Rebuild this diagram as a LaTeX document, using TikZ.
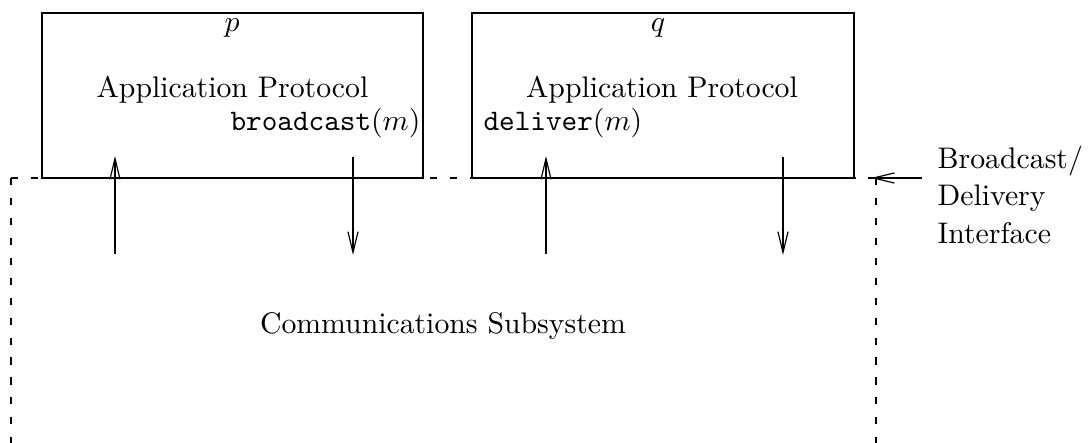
\documentclass[tikz,border=0pt]{standalone}
\usetikzlibrary{arrows.meta}
\begin{document}
\begin{tikzpicture}[x=0.336pt,y=-0.336pt, line width=0.4pt,
  dashedline/.style={dash pattern=on 2.4pt off 4.3pt},
  arr/.style={-{Straight Barb[length=7pt,width=3.4pt]}},
  txt/.style={inner sep=0, anchor=base, font=\fontsize{10}{12}\selectfont}]
\useasboundingbox (0,0) rectangle (1090,443);
% communications subsystem (dashed, open at the bottom)
\coordinate (cbl) at (11,443);
\coordinate (ctl) at (11,178);
\coordinate (ctr) at (876,178);
\coordinate (cbr) at (876,443);
\draw[dashedline] (ctl) -- (cbl);
\draw[dashedline] (ctl) -- (ctr);
\draw[dashedline] (ctr) -- (cbr);
% process boxes
\node[draw, inner sep=0, minimum width=128.02pt, minimum height=55.44pt] (P) at (232.5,95.5) {};
\node[draw, inner sep=0, minimum width=128.35pt, minimum height=55.44pt] (Q) at (663,95.5) {};
% labels
\node[txt] (pl) at (232,32) {$p$};
\node[txt] (pa) at (232.5,98) {Application Protocol};
\node[txt, anchor=base east] (pb) at (421,131) {\texttt{broadcast}$(m)$};
\node[txt] (ql) at (658,32) {$q$};
\node[txt] (qa) at (662,98) {Application Protocol};
\node[txt, anchor=base west] (qd) at (483,131) {\texttt{deliver}$(m)$};
\node[txt] (cs) at (443,333) {Communications Subsystem};
\node[txt, anchor=base west] (bi1) at (937,168) {Broadcast/};
\node[txt, anchor=base west] (bi2) at (937,205.5) {Delivery};
\node[txt, anchor=base west] (bi3) at (937,243) {Interface};
% arrows
\coordinate (a1s) at (115,254);
\coordinate (a1e) at (115,156);
\coordinate (a2s) at (353,157);
\coordinate (a2e) at (353,255);
\coordinate (a3s) at (546,254);
\coordinate (a3e) at (546,156);
\coordinate (a4s) at (783,157);
\coordinate (a4e) at (783,255);
\draw[arr] (a1s) -- (a1e);
\draw[arr] (a2s) -- (a2e);
\draw[arr] (a3s) -- (a3e);
\draw[arr] (a4s) -- (a4e);
\coordinate (ifs) at (922,178);
\coordinate (ife) at (871,178);
\draw[arr] (ifs) -- (ife);
\end{tikzpicture}
\end{document}
